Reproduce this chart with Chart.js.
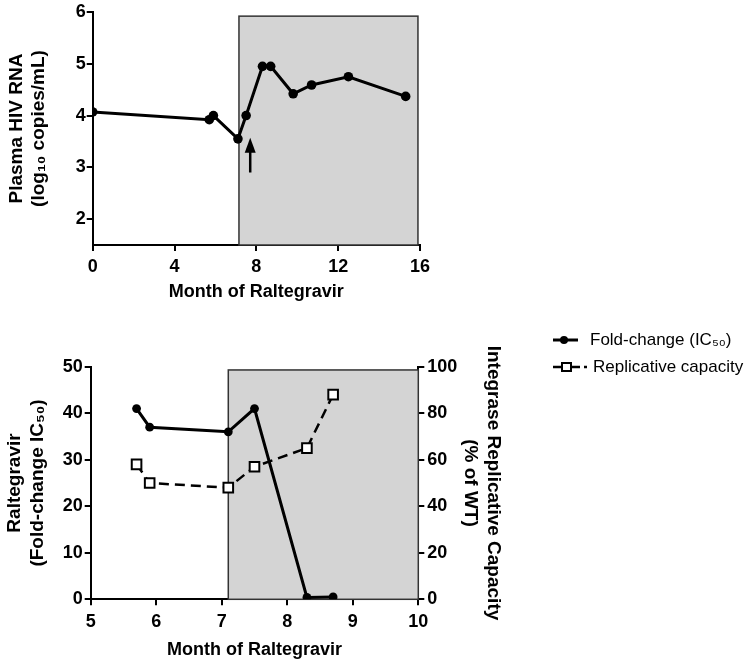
<!DOCTYPE html>
<html>
<head>
<meta charset="utf-8">
<script src="https://cdn.jsdelivr.net/npm/chart.js@4.4.1/dist/chart.umd.min.js"></script>
<style>
  html, body { margin:0; padding:0; background:#fff; }
  #wrap { position:relative; width:752px; height:666px; overflow:hidden; }
  canvas { position:absolute; left:0; }
  #top { top:0; }
  #bottom { top:320px; }
</style>
</head>
<body>
<div id="wrap">
  <canvas id="top" width="440" height="310"></canvas>
  <canvas id="bottom" width="752" height="346"></canvas>
</div>
<script>
// top panel: plasma viral load
const rnaMonths = [0, 5.7, 5.9, 7.1, 7.5, 8.3, 8.7, 9.8, 10.7, 12.5, 15.3];
const rnaLog    = [4.07, 3.92, 4.0, 3.55, 4.0, 4.95, 4.95, 4.42, 4.59, 4.75, 4.37];
const rnaXTicks = [0, 4, 8, 12, 16];
const rnaYTicks = [2, 3, 4, 5, 6];

// bottom panel: phenotype
const resMonths   = [5.7, 5.9, 7.1, 7.5, 8.3, 8.7];
const foldChange  = [41, 37, 36, 41, 0.4, 0.5];
const repCapacity = [58, 50, 48, 57, 65, 88];
const resXTicks   = [5, 6, 7, 8, 9, 10];
const foldTicks   = [0, 10, 20, 30, 40, 50];
const capTicks    = [0, 20, 40, 60, 80, 100];

// shaded raltegravir period + arrow marker
const shadeTop    = {start:7.15, end:15.9, top:5.92};
const shadeBottom = {start:7.1, end:10, top:49.3};
const arrowMark   = {x:7.7, from:2.9, to:3.57};

const legendLabels = ['Fold-change (IC\u2085\u2080)', 'Replicative capacity'];

const TICKFONT  = {family:"'Liberation Sans Narrow','Liberation Sans',Arial,sans-serif", size:18, weight:'bold'};
const TITLEFONT = {family:"'Liberation Sans',Arial,sans-serif", size:19, weight:'bold', lineHeight:1.2};
const XTITLEFONT = {family:"'Liberation Sans',Arial,sans-serif", size:18, weight:'bold', lineHeight:1.2};

Chart.defaults.color = '#000';
Chart.defaults.animation = false;

const pts = (xs, ys) => xs.map((x,i) => ({x, y:ys[i]}));
const setTicks = arr => s => { s.ticks = arr.map(v => ({value:v})); };

function axis(ticks, extra) {
  return Object.assign({
    type:'linear',
    afterBuildTicks:setTicks(ticks),
    ticks:{font:TICKFONT, color:'#000', padding:2, maxRotation:0, autoSkip:false},
    grid:{drawOnChartArea:false, drawTicks:true, tickLength:6, color:'#000', lineWidth:2},
    border:{display:true, color:'#000', width:2},
  }, extra);
}

const shadePlugin = {
  id:'shade',
  beforeDatasetsDraw(chart, args, opts) {
    const {ctx, scales:{x, y}} = chart;
    const l = x.getPixelForValue(opts.start), r = x.getPixelForValue(opts.end);
    const t = y.getPixelForValue(opts.top), b = chart.chartArea.bottom;
    ctx.save();
    ctx.fillStyle = '#d4d4d4';
    ctx.fillRect(l, t, r - l, b - t);
    ctx.strokeStyle = '#333';
    ctx.lineWidth = 1.5;
    ctx.strokeRect(l, t, r - l, b - t);
    ctx.restore();
  }
};

const arrowPlugin = {
  id:'arrow',
  afterDatasetsDraw(chart, args, opts) {
    if (!opts.x) return;
    const {ctx, scales:{x, y}} = chart;
    const px = x.getPixelForValue(opts.x);
    const y0 = y.getPixelForValue(opts.from), y1 = y.getPixelForValue(opts.to);
    ctx.save();
    ctx.strokeStyle = '#000'; ctx.fillStyle = '#000'; ctx.lineWidth = 2.5;
    ctx.beginPath(); ctx.moveTo(px, y0); ctx.lineTo(px, y1 + 10); ctx.stroke();
    ctx.beginPath(); ctx.moveTo(px, y1); ctx.lineTo(px - 5.5, y1 + 15); ctx.lineTo(px + 5.5, y1 + 15); ctx.closePath(); ctx.fill();
    ctx.restore();
  }
};

// ── top panel ───────────────────────────────────────────
new Chart(document.getElementById('top'), {
  type:'line',
  data:{datasets:[{
    data:pts(rnaMonths, rnaLog),
    borderColor:'#000', borderWidth:3, tension:0,
    pointRadius:4.8, pointBorderWidth:0, pointBackgroundColor:'#000', pointBorderColor:'#000',
  }]},
  options:{
    responsive:false, devicePixelRatio:1,
    layout:{padding:{left:0, top:12, right:20, bottom:0}},
    plugins:{legend:{display:false}, tooltip:{enabled:false}, shade:shadeTop, arrow:arrowMark},
    scales:{
      x:axis(rnaXTicks, {
        min:0, max:16, position:'bottom',
        afterFit:s => { s.height = 65; },
        ticks:{font:TICKFONT, color:'#000', padding:5, maxRotation:0, autoSkip:false},
        title:{display:true, text:'Month of Raltegravir', font:XTITLEFONT, color:'#000', padding:{top:0, bottom:7}},
      }),
      y:axis(rnaYTicks, {
        min:1.5, max:6, position:'left',
        afterFit:s => { s.width = 92.7; },
        ticks:{font:TICKFONT, color:'#000', padding:1},
        title:{display:true, text:['Plasma HIV RNA', '(log\u2081\u2080 copies/mL)'], font:TITLEFONT, color:'#000', padding:{top:5, bottom:0}},
      }),
    }
  },
  plugins:[shadePlugin, arrowPlugin]
});

// ── bottom panel ────────────────────────────────────────
const legendPlugin = {
  id:'sideLegend',
  afterDraw(chart) {
    const {ctx} = chart;
    ctx.save();
    ctx.strokeStyle = '#000'; ctx.fillStyle = '#000';
    // fold-change
    ctx.lineWidth = 3;
    ctx.beginPath(); ctx.moveTo(553, 20); ctx.lineTo(578, 20); ctx.stroke();
    ctx.beginPath(); ctx.arc(564, 20, 4, 0, Math.PI * 2); ctx.fill();
    // replicative capacity
    ctx.lineWidth = 2.5;
    ctx.beginPath(); ctx.moveTo(553, 47); ctx.lineTo(562, 47); ctx.stroke();
    ctx.beginPath(); ctx.moveTo(571, 47); ctx.lineTo(580, 47); ctx.stroke();
    ctx.beginPath(); ctx.moveTo(584, 47); ctx.lineTo(587, 47); ctx.stroke();
    ctx.fillStyle = '#fff'; ctx.lineWidth = 2;
    ctx.fillRect(562, 43, 9, 8); ctx.strokeRect(562, 43, 9, 8);
    ctx.fillStyle = '#000';
    ctx.font = "17px 'Liberation Sans', Arial, sans-serif";
    ctx.textBaseline = 'middle';
    ctx.fillText(legendLabels[0], 590, 20);
    ctx.fillText(legendLabels[1], 593, 47);
    ctx.restore();
  }
};

new Chart(document.getElementById('bottom'), {
  type:'line',
  data:{datasets:[
    {
      label:legendLabels[0], yAxisID:'y',
      data:pts(resMonths, foldChange),
      borderColor:'#000', borderWidth:3, tension:0,
      pointRadius:4.4, pointBorderWidth:0, pointBackgroundColor:'#000', pointBorderColor:'#000',
    },
    {
      label:legendLabels[1], yAxisID:'y1',
      data:pts(resMonths, repCapacity),
      borderColor:'#000', borderWidth:2.5, borderDash:[10,6], tension:0,
      pointStyle:'rect', pointRadius:6.8, pointBackgroundColor:'#fff', pointBorderColor:'#000', pointBorderWidth:2,
    }
  ]},
  options:{
    responsive:false, devicePixelRatio:1,
    layout:{padding:{left:0, top:46.7, right:245.7, bottom:0}},
    plugins:{legend:{display:false}, tooltip:{enabled:false}, shade:shadeBottom, arrow:{}},
    scales:{
      x:axis(resXTicks, {
        min:5, max:10, position:'bottom',
        afterFit:s => { s.height = 66.7; },
        ticks:{font:TICKFONT, color:'#000', padding:6, maxRotation:0, autoSkip:false},
        title:{display:true, text:'Month of Raltegravir', font:XTITLEFONT, color:'#000', padding:{top:0, bottom:5}},
      }),
      y:axis(foldTicks, {
        min:0, max:50, position:'left',
        afterFit:s => { s.width = 90.7; },
        ticks:{font:TICKFONT, color:'#000', padding:2},
        title:{display:true, text:['Raltegravir', '(Fold-change IC\u2085\u2080)'], font:TITLEFONT, color:'#000', padding:{top:3.6, bottom:0}},
      }),
      y1:axis(capTicks, {
        min:0, max:100, position:'right',
        afterFit:s => { s.width = 88; },
        ticks:{font:TICKFONT, color:'#000', padding:3},
        title:{display:true, text:['Integrase Replicative Capacity', '(% of WT)'], font:TITLEFONT, color:'#000', padding:{top:1.9, bottom:0}},
      }),
    }
  },
  plugins:[shadePlugin, arrowPlugin, legendPlugin]
});
</script>
</body>
</html>
